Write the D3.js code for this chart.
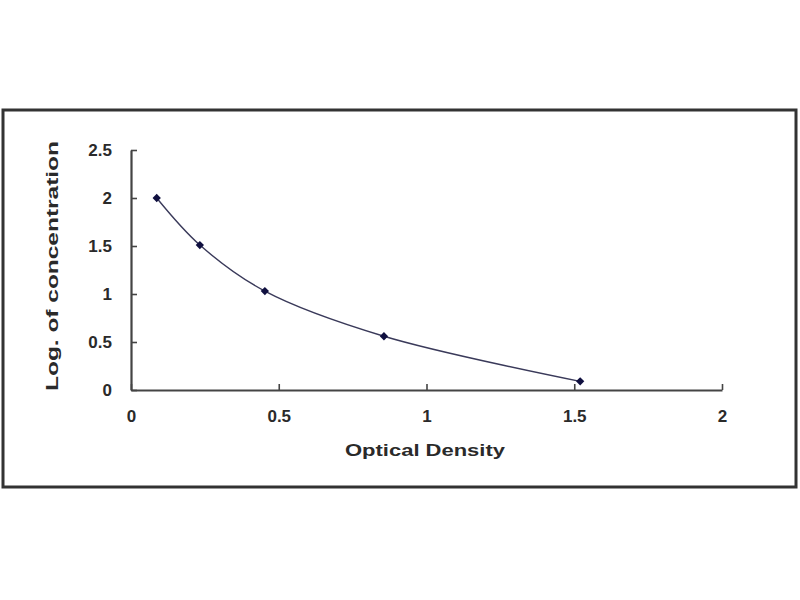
<!DOCTYPE html>
<html>
<head>
<meta charset="utf-8">
<script src="https://cdn.jsdelivr.net/npm/d3@7"></script>
<style>
  html, body { margin: 0; padding: 0; background: #fff; }
  svg { display: block; }
  text { font-family: "Liberation Sans", Arial, sans-serif; font-weight: bold; fill: #2a2a2a; }
</style>
</head>
<body>
<svg id="chart" width="800" height="600"></svg>
<script>
// Data
const odValues = [0.087, 0.233, 0.453, 0.856, 1.52];
const logConc  = [2.0, 1.51, 1.03, 0.56, 0.09];
const xTicks = [0, 0.5, 1, 1.5, 2];
const yTicks = [0, 0.5, 1, 1.5, 2, 2.5];
const xTitle = "Optical Density";
const yTitle = "Log. of concentration";

const svg = d3.select("#chart");

// outer frame
svg.append("rect")
  .attr("x", 3).attr("y", 110)
  .attr("width", 793).attr("height", 377)
  .attr("fill", "#fff")
  .attr("stroke", "#333").attr("stroke-width", 3);

const x = d3.scaleLinear().domain([0, 2]).range([131, 722]);
const y = d3.scaleLinear().domain([0, 2.5]).range([390, 150]);

// axes
const xAxis = d3.axisBottom(x).tickValues(xTicks).tickSizeInner(-6).tickSizeOuter(0)
  .tickFormat(d => String(d)).tickPadding(20);
const yAxis = d3.axisLeft(y).tickValues(yTicks).tickSizeInner(-6).tickSizeOuter(0)
  .tickFormat(d => String(d)).tickPadding(19);

const gx = svg.append("g").attr("transform", `translate(0,${y(0)})`).call(xAxis);
const gy = svg.append("g").attr("transform", `translate(${x(0)},0)`).call(yAxis);

[gx, gy].forEach(g => {
  g.select(".domain").attr("stroke", "#444").attr("stroke-width", 2.2);
  g.selectAll(".tick line").attr("stroke", "#444").attr("stroke-width", 1.6);
  g.selectAll(".tick text")
    .attr("font-family", "'Liberation Sans', Arial, sans-serif")
    .attr("font-weight", "bold")
    .attr("font-size", 17)
    .attr("fill", "#2a2a2a");
});

// curve
const pts = odValues.map((v, i) => [v, logConc[i]]);
const line = d3.line()
  .x(d => x(d[0])).y(d => y(d[1]))
  .curve(d3.curveCatmullRom.alpha(0.5));

svg.append("path")
  .datum(pts)
  .attr("d", line)
  .attr("fill", "none")
  .attr("stroke", "#3a3a5a")
  .attr("stroke-width", 1.4);

// diamond markers
svg.selectAll(".pt")
  .data(pts)
  .enter().append("path")
  .attr("class", "pt")
  .attr("transform", d => `translate(${x(d[0])},${y(d[1])})`)
  .attr("d", d3.symbol().type(d3.symbolDiamond2).size(44))
  .attr("fill", "#101040");

// titles
svg.append("text")
  .attr("x", 425).attr("y", 456)
  .attr("text-anchor", "middle")
  .attr("font-size", 17)
  .attr("textLength", 160)
  .attr("lengthAdjust", "spacingAndGlyphs")
  .text(xTitle);

svg.append("text")
  .attr("transform", "translate(58,266) rotate(-90)")
  .attr("text-anchor", "middle")
  .attr("font-size", 17)
  .attr("textLength", 250)
  .attr("lengthAdjust", "spacingAndGlyphs")
  .text(yTitle);
</script>
</body>
</html>
